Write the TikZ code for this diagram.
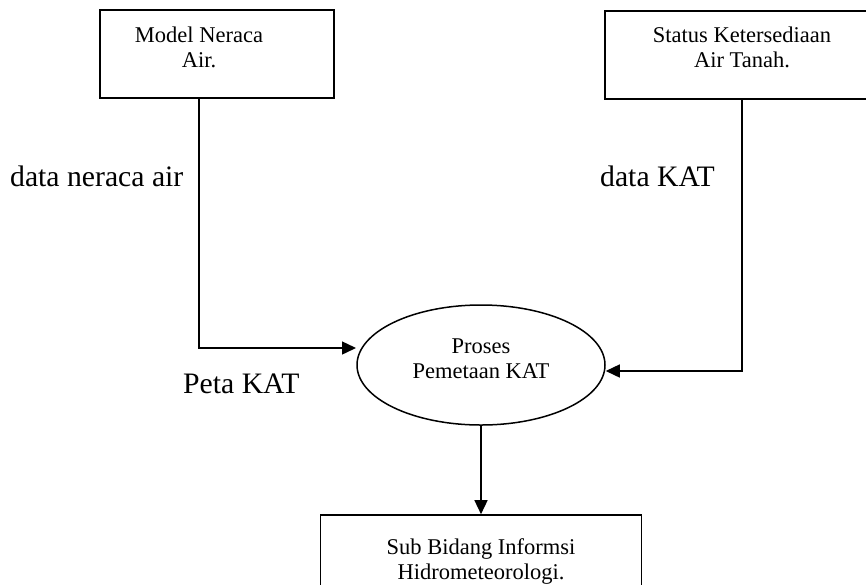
\documentclass[tikz,border=0pt]{standalone}
\usepackage{fontspec}
\setmainfont{Liberation Serif}
\usetikzlibrary{arrows.meta,shapes.geometric}
\begin{document}
\begin{tikzpicture}[x=1pt,y=-1pt,
  box/.style={draw,line width=1.6pt,inner sep=0pt},
  procshape/.style={ellipse,draw,line width=1.5pt,inner sep=0pt},
  boxtxt/.style={align=center,inner sep=0pt,anchor=base,
    font=\fontsize{22.5}{25}\selectfont},
  lbl/.style={inner sep=0pt,anchor=base west,
    font=\fontsize{29.7}{33}\selectfont},
  flow/.style={draw,line width=1.4pt,-{Triangle[length=14pt,width=13pt]}}]
\useasboundingbox (0,0) rectangle (866,584);
\clip (0,0) rectangle (866,584);

% external entities and process (text anchored on the last line's baseline)
\node[box,minimum width=234pt,minimum height=88pt] (neraca) at (217,54) {};
\node[boxtxt] (neracaT) at (199,67) {Model Neraca\\Air.};

\node[box,minimum width=274pt,minimum height=88pt] (status) at (742,55) {};
\node[boxtxt] (statusT) at (742,67) {Status Ketersediaan\\Air Tanah.};

\node[procshape,minimum width=248pt,minimum height=120pt] (proses) at (481,365) {};
\node[boxtxt] (prosesT) at (481,378) {Proses\\Pemetaan KAT};

\node[box,minimum width=321pt,minimum height=90pt] (subbid) at (481,560) {};
\node[boxtxt] (subbidT) at (481,579) {Sub Bidang Informsi\\Hidrometeorologi.};

% data flows
\coordinate (inL) at (356,348);
\draw[flow] (neraca.south -| neracaT) |- (inL);
\draw[flow] (status.south) |- ([yshift=-6pt]proses.east);
\draw[flow] (proses.south) -- (subbid.north);

% flow labels
\node[lbl] (lblNeraca) at (10,186) {data neraca air};
\node[lbl] (lblKat) at (600,186) {data KAT};
\node[lbl] (lblPeta) at (183,393) {Peta KAT};
\end{tikzpicture}
\end{document}
